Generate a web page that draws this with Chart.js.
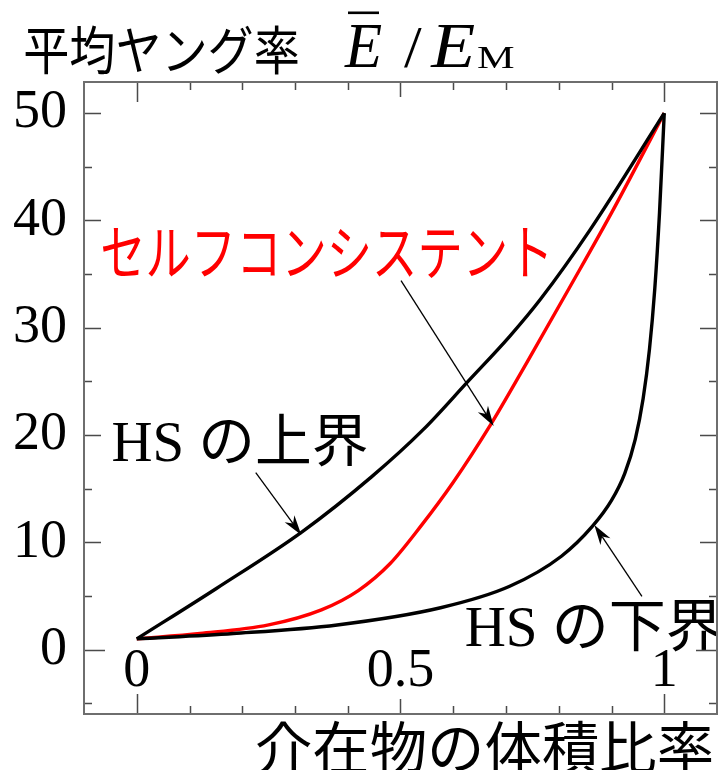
<!DOCTYPE html>
<html>
<head>
<meta charset="utf-8">
<script src="https://cdn.jsdelivr.net/npm/chart.js@4/dist/chart.umd.min.js"></script>
<style>
  html, body { margin: 0; padding: 0; background: #fff; }
  #wrap { width: 718px; height: 770px; position: relative; }
  canvas { display: block; }
</style>
</head>
<body>
<div id="wrap"><canvas id="c" width="718" height="770"></canvas></div>
<script>
// Inclusion volume fraction (x) against normalised mean Young's modulus E/E_M (y)
const upperX = [0, 0.151, 0.314, 0.445, 0.543, 0.628, 0.707, 0.766, 0.859, 1];
const upperY = [1, 5.7, 11.0, 16.1, 20.5, 25.0, 29.2, 32.7, 39.1, 50];

const selfX = [0, 0.12, 0.25, 0.35, 0.42, 0.48, 0.54, 0.60, 0.67, 0.74, 0.82, 0.90, 1];
const selfY = [1, 1.5, 2.3, 3.7, 5.5, 8.0, 11.6, 15.6, 20.9, 26.8, 33.7, 40.7, 50];

const lowerX = [0, 0.183, 0.380, 0.576, 0.707, 0.805, 0.864, 0.90, 0.925, 0.945, 0.96, 0.972, 0.982, 0.991, 1];
const lowerY = [1, 1.5, 2.3, 3.9, 5.9, 8.7, 11.5, 13.9, 16.4, 19.6, 23.4, 28.0, 33.6, 40.7, 50];

const xTickValues = [0, 0.5, 1];
const xTickLabels = ['0', '0.5', '1'];
const yTickValues = [0, 10, 20, 30, 40, 50];

const pts = (xs, ys) => xs.map((x, i) => ({ x, y: ys[i] }));

const SERIF = "'Liberation Serif', 'Times New Roman', serif";
const GOTHIC = "'Noto Sans CJK JP', 'Noto Sans', sans-serif";
const MIXED = "'Liberation Serif', 'Noto Sans CJK JP', serif";

// Draw text so that its ink box starts at (left, top); optional width squeezes it horizontally
function inkText(ctx, s, left, top, font, color, width) {
  ctx.save();
  ctx.font = font;
  ctx.fillStyle = color;
  ctx.textAlign = 'left';
  ctx.textBaseline = 'alphabetic';
  const m = ctx.measureText(s);
  const w = m.actualBoundingBoxLeft + m.actualBoundingBoxRight;
  const sx = width ? width / w : 1;
  ctx.translate(left, top + m.actualBoundingBoxAscent);
  ctx.scale(sx, 1);
  ctx.fillText(s, m.actualBoundingBoxLeft, 0);
  ctx.restore();
}

function arrow(ctx, x0, y0, x1, y1) {
  const a = Math.atan2(y1 - y0, x1 - x0);
  const len = 20, half = 6, notch = 14;
  ctx.save();
  ctx.strokeStyle = '#000';
  ctx.fillStyle = '#000';
  ctx.lineWidth = 1.3;
  ctx.beginPath();
  ctx.moveTo(x0, y0);
  ctx.lineTo(x1 - Math.cos(a) * notch, y1 - Math.sin(a) * notch);
  ctx.stroke();
  ctx.translate(x1, y1);
  ctx.rotate(a);
  ctx.beginPath();
  ctx.moveTo(0, 0);
  ctx.lineTo(-len, -half);
  ctx.lineTo(-notch, 0);
  ctx.lineTo(-len, half);
  ctx.closePath();
  ctx.fill();
  ctx.restore();
}

// Arrow callouts, anchored in data units
const callouts = [
  { from: [0.2256, 16.5], to: [0.312, 10.69] },
  { from: [0.501, 34.39], to: [0.6766, 20.85] },
  { from: [0.9577, 4.96], to: [0.8675, 11.62] }
];

const framePlugin = {
  id: 'frameTicks',
  afterDraw(chart) {
    const { ctx, chartArea: a, scales: { x, y } } = chart;
    ctx.save();
    // inward tick marks on all four sides
    ctx.strokeStyle = '#4a4a4a';
    ctx.lineWidth = 1.5;
    ctx.beginPath();
    for (let k = -1; k <= 11; k++) {
      const v = k / 10;
      const px = Math.round(x.getPixelForValue(v)) + 0.5;
      if (px <= a.left + 1 || px >= a.right - 1) continue;
      const major = k % 5 === 0;
      const len = major ? (k === 5 ? 15 : 20) : 8;
      ctx.moveTo(px, a.bottom); ctx.lineTo(px, a.bottom - len);
      ctx.moveTo(px, a.top); ctx.lineTo(px, a.top + len);
    }
    for (let v = -5; v <= 50; v += 5) {
      const py = Math.round(y.getPixelForValue(v)) + 0.5;
      const major = v % 10 === 0;
      const len = major ? (v === 0 ? 21 : 17) : 8;
      ctx.moveTo(a.left, py); ctx.lineTo(a.left + len, py);
      ctx.moveTo(a.right, py); ctx.lineTo(a.right - len, py);
    }
    ctx.stroke();
    // frame
    ctx.strokeStyle = '#6e6e6e';
    ctx.lineWidth = 2;
    ctx.strokeRect(a.left, a.top, a.right - a.left, a.bottom - a.top);
    ctx.restore();

    // x tick labels sit inside the frame
    ctx.save();
    ctx.font = '54px ' + SERIF;
    ctx.fillStyle = '#000';
    ctx.textAlign = 'center';
    ctx.textBaseline = 'alphabetic';
    xTickValues.forEach((v, i) => {
      ctx.fillText(xTickLabels[i], x.getPixelForValue(v), y.getPixelForValue(0) + 36.5);
    });
    ctx.restore();

    // axis titles
    inkText(ctx, '平均ヤング率', 25, 25, '52px ' + GOTHIC, '#000', 273);
    inkText(ctx, 'E', 344, 25, 'italic 64px ' + SERIF, '#000', 38);
    inkText(ctx, '/', 404, 28, '60px ' + SERIF, '#000', 18);
    inkText(ctx, 'E', 430, 25, 'italic 64px ' + SERIF, '#000', 45);
    inkText(ctx, 'M', 477, 47, '32px ' + SERIF, '#000', 37);
    ctx.save();
    ctx.fillStyle = '#000';
    ctx.fillRect(348, 11.5, 31, 2.6);
    ctx.restore();
    inkText(ctx, '介在物の体積比率', 257, 720, '57px ' + GOTHIC, '#000', 455);
  },
  afterDatasetsDraw(chart) {
    const { ctx, scales: { x, y } } = chart;
    callouts.forEach(c => {
      arrow(ctx,
        x.getPixelForValue(c.from[0]), y.getPixelForValue(c.from[1]),
        x.getPixelForValue(c.to[0]), y.getPixelForValue(c.to[1]));
    });
    inkText(ctx, 'セルフコンシステント', 102.5, 228, '60px ' + GOTHIC, '#ff0000', 444);
    inkText(ctx, 'HS の上界', 112.6, 413, '57px ' + MIXED, '#000', 254);
    inkText(ctx, 'HS の下界', 465.7, 600, '57px ' + MIXED, '#000');
  }
};

const lineStyle = {
  showLine: true,
  pointRadius: 0,
  pointHoverRadius: 0,
  borderWidth: 3.4,
  cubicInterpolationMode: 'monotone',
  fill: false
};

new Chart(document.getElementById('c'), {
  type: 'scatter',
  data: {
    datasets: [
      Object.assign({ label: 'HS の上界', data: pts(upperX, upperY), borderColor: '#000' }, lineStyle),
      Object.assign({ label: 'HS の下界', data: pts(lowerX, lowerY), borderColor: '#000' }, lineStyle),
      Object.assign({ label: 'セルフコンシステント', data: pts(selfX, selfY), borderColor: '#ff0000' }, lineStyle)
    ]
  },
  options: {
    responsive: false,
    animation: false,
    devicePixelRatio: 1,
    layout: { padding: { top: 82, right: 1, bottom: 56, left: 0 } },
    plugins: { legend: { display: false }, tooltip: { enabled: false } },
    scales: {
      x: {
        type: 'linear', min: -0.1, max: 1.1, display: false
      },
      y: {
        type: 'linear', min: -6, max: 52.9,
        grid: { display: false, drawTicks: false },
        border: { display: false },
        afterBuildTicks(scale) { scale.ticks = yTickValues.map(v => ({ value: v })); },
        afterFit(scale) { scale.width = 84; },
        ticks: {
          padding: 17,
          color: '#000',
          font: { family: SERIF, size: 54 },
          callback: v => String(v)
        }
      }
    }
  },
  plugins: [framePlugin]
});
</script>
</body>
</html>
